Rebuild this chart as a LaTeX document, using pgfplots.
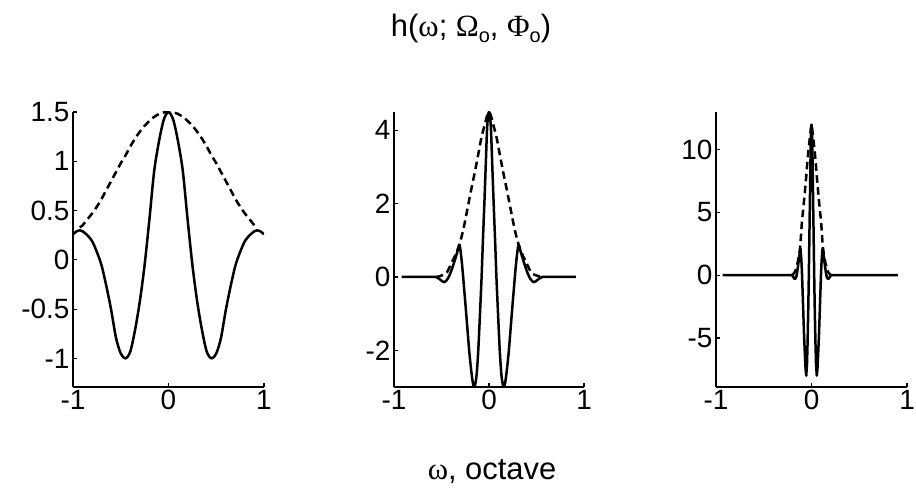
\documentclass[border=0pt]{standalone}
\usepackage{fontspec}
\setmainfont{Liberation Sans}
\newfontfamily\grk{Liberation Serif}
\usepackage{pgfplots}
\pgfplotsset{compat=1.18}
\newcommand\sub[1]{\raisebox{-0.35ex}{\fontsize{20}{20}\selectfont #1}}
\pgfplotsset{
  panel/.style={
    scale only axis, width=191bp, height=275bp,
    axis x line*=bottom, axis y line*=left,
    axis line style={black, line width=1.9bp},
    tick align=inside, major tick length=4bp,
    tick style={black, line width=1.2bp},
    xmin=-1, xmax=1, xtick={-1,0,1}, xticklabels={-1,0,1},
    tick label style={font=\fontsize{28}{28}\selectfont},
    clip=true,
  },
  sol/.style={black, line width=2.5bp, line join=round, mark=none},
  das/.style={black, line width=2.5bp, dash pattern=on 7.5bp off 4.5bp, mark=none},
}
\begin{document}
\begin{tikzpicture}[x=1bp,y=1bp]
\path[use as bounding box] (0,0) rectangle (916,490);

\begin{axis}[panel, at={(73bp,103bp)}, anchor=south west,
  ymin=-1.29, ymax=1.5, ytick={-1,-0.5,0,0.5,1,1.5}, yticklabels={-1,-0.5,0,0.5,1,1.5}]
\addplot[das, smooth] coordinates {
(-0.93,0.33)(-0.90,0.35)(-0.85,0.41)(-0.80,0.47)(-0.75,0.54)(-0.70,0.62)(-0.65,0.71)(-0.60,0.80)(-0.55,0.89)(-0.50,0.98)(-0.45,1.06)(-0.40,1.15)(-0.35,1.23)(-0.30,1.30)(-0.25,1.36)(-0.20,1.41)(-0.15,1.45)(-0.10,1.48)(-0.05,1.495)(0,1.5)
(0.05,1.495)(0.10,1.48)(0.15,1.45)(0.20,1.41)(0.25,1.36)(0.30,1.30)(0.35,1.23)(0.40,1.15)(0.45,1.06)(0.50,0.98)(0.55,0.89)(0.60,0.80)(0.65,0.71)(0.70,0.62)(0.75,0.54)(0.80,0.47)(0.85,0.41)(0.90,0.35)(0.93,0.33)};
\addplot[sol, smooth] coordinates {
(-1,0.26)(-0.96,0.29)(-0.93,0.30)(-0.90,0.29)(-0.85,0.25)(-0.80,0.19)(-0.75,0.08)(-0.70,-0.06)(-0.65,-0.27)(-0.60,-0.51)(-0.55,-0.79)(-0.50,-0.95)(-0.45,-1.00)(-0.40,-0.93)(-0.35,-0.71)(-0.30,-0.42)(-0.25,-0.05)(-0.20,0.41)(-0.15,0.90)(-0.10,1.20)(-0.05,1.42)(0,1.5)
(0.05,1.42)(0.10,1.20)(0.15,0.90)(0.20,0.41)(0.25,-0.05)(0.30,-0.42)(0.35,-0.71)(0.40,-0.93)(0.45,-1.00)(0.50,-0.95)(0.55,-0.79)(0.60,-0.51)(0.65,-0.27)(0.70,-0.06)(0.75,0.08)(0.80,0.19)(0.85,0.25)(0.90,0.29)(0.93,0.30)(0.96,0.29)(1,0.26)};
\end{axis}

\begin{axis}[panel, at={(394bp,103bp)}, anchor=south west, width=190bp,
  ymin=-3, ymax=4.5, ytick={-2,0,2,4}, yticklabels={-2,0,2,4}]
\addplot[das, smooth] coordinates {
(-0.56,0)(-0.52,0.02)(-0.48,0.06)(-0.44,0.14)(-0.39,0.41)(-0.35,0.62)(-0.31,0.9)(-0.27,1.3)(-0.22,1.95)(-0.19,2.35)(-0.15,2.85)(-0.12,3.25)(-0.08,3.8)(-0.04,4.2)(-0.02,4.4)(0,4.5)
(0.02,4.4)(0.04,4.2)(0.08,3.8)(0.12,3.25)(0.15,2.85)(0.19,2.35)(0.22,1.95)(0.27,1.3)(0.31,0.9)(0.35,0.62)(0.39,0.41)(0.44,0.14)(0.48,0.06)(0.52,0.02)(0.56,0)};
\addplot[sol, smooth] coordinates {
(-0.92,0)(-0.60,0)(-0.56,0)(-0.53,-0.04)(-0.50,-0.10)(-0.47,-0.14)(-0.44,-0.07)(-0.41,0.08)(-0.38,0.30)(-0.35,0.54)(-0.33,0.72)(-0.31,0.87)(-0.29,0.5)(-0.272,0)(-0.24,-1.0)(-0.209,-2.0)(-0.185,-2.6)(-0.167,-2.93)(-0.156,-3.0)(-0.145,-2.93)(-0.13,-2.65)(-0.113,-2.0)(-0.095,-1.0)(-0.078,0)(-0.064,1.0)(-0.049,2.0)(-0.035,3.0)(-0.021,4.0)(-0.01,4.4)(0,4.5)
(0.01,4.4)(0.021,4.0)(0.035,3.0)(0.049,2.0)(0.064,1.0)(0.078,0)(0.095,-1.0)(0.113,-2.0)(0.13,-2.65)(0.145,-2.93)(0.156,-3.0)(0.167,-2.93)(0.185,-2.6)(0.209,-2.0)(0.24,-1.0)(0.272,0)(0.29,0.5)(0.31,0.87)(0.33,0.72)(0.35,0.54)(0.38,0.30)(0.41,0.08)(0.44,-0.07)(0.47,-0.14)(0.50,-0.10)(0.53,-0.04)(0.56,0)(0.60,0)(0.915,0)};
\end{axis}

\begin{axis}[panel, at={(716bp,103bp)}, anchor=south west,
  ymin=-8.9, ymax=13, ytick={-5,0,5,10}, yticklabels={-5,0,5,10}]
\addplot[das] coordinates {
(-0.205,0)(-0.19,0.1)(-0.175,0.25)(-0.16,0.55)(-0.145,1.0)(-0.13,1.6)(-0.118,2.3)(-0.11,3.2)(-0.1,4.3)(-0.085,5.4)(-0.07,6.6)(-0.056,7.8)(-0.044,9.0)(-0.03,10.1)(-0.015,11.1)(-0.008,11.6)(0,12)
(0.008,11.6)(0.015,11.1)(0.03,10.1)(0.044,9.0)(0.056,7.8)(0.07,6.6)(0.085,5.4)(0.1,4.3)(0.11,3.2)(0.118,2.3)(0.13,1.6)(0.145,1.0)(0.16,0.55)(0.175,0.25)(0.19,0.1)(0.205,0)};
\addplot[sol] coordinates {
(-0.93,0)(-0.22,0)(-0.205,0)(-0.195,-0.1)(-0.183,-0.25)(-0.172,-0.3)(-0.16,-0.15)(-0.15,0.25)(-0.14,0.8)(-0.13,1.4)(-0.123,1.8)(-0.115,2.1)(-0.106,1.2)(-0.099,0)(-0.088,-2.5)(-0.078,-4.8)(-0.07,-6.2)(-0.062,-7.5)(-0.055,-8.0)(-0.047,-7.0)(-0.041,-5.3)(-0.034,-2.7)(-0.028,0)(-0.023,2.7)(-0.018,5.3)(-0.013,8.0)(-0.008,10.6)(-0.004,11.6)(0,12)
(0.004,11.6)(0.008,10.6)(0.013,8.0)(0.018,5.3)(0.023,2.7)(0.028,0)(0.034,-2.7)(0.041,-5.3)(0.047,-7.0)(0.055,-8.0)(0.062,-7.5)(0.07,-6.2)(0.078,-4.8)(0.088,-2.5)(0.099,0)(0.106,1.2)(0.115,2.1)(0.123,1.8)(0.13,1.4)(0.14,0.8)(0.15,0.25)(0.16,-0.15)(0.172,-0.3)(0.183,-0.25)(0.195,-0.1)(0.205,0)(0.22,0)(0.905,0)};
\end{axis}

\node[anchor=base, font=\fontsize{31}{31}\selectfont, inner sep=0pt] at (471,453) {h({\grk ω}; {\grk Ω}\sub{o}, {\grk Φ}\sub{o})};
\node[anchor=base, font=\fontsize{31}{31}\selectfont, inner sep=0pt] at (492,10.7) {{\grk ω}, octave};
\end{tikzpicture}
\end{document}
